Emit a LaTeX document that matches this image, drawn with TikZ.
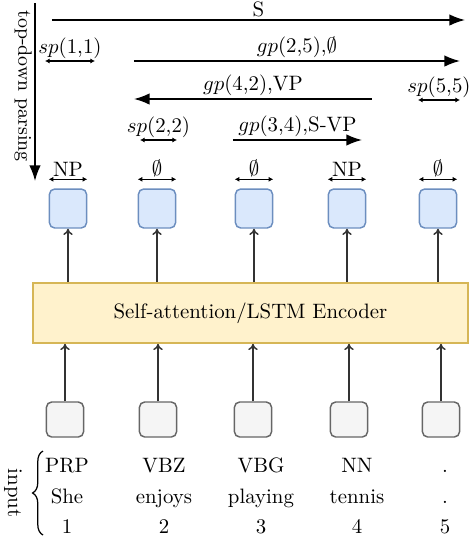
\documentclass[tikz,border=0pt]{standalone}
\usepackage{amsmath}
\usepackage{amssymb}
\usepackage{tikz}
\usetikzlibrary{arrows}
\usetikzlibrary{arrows.meta}
\usetikzlibrary{calc}
\usetikzlibrary{decorations.pathreplacing}

\definecolor{hidfill}{HTML}{DAE8FC}
\definecolor{hiddraw}{HTML}{6C8EBF}
\definecolor{embfill}{HTML}{F5F5F5}
\definecolor{embdraw}{HTML}{666666}
\definecolor{encfill}{HTML}{FFF2CC}
\definecolor{encdraw}{HTML}{D6B656}

\begin{document}
\begin{tikzpicture}[x=0.48pt,y=-0.48pt]
\tikzstyle{hidden}=[draw=hiddraw,fill=hidfill,line width=0.7pt,rounded corners=2.5pt,minimum width=17.8pt,minimum height=18.7pt,inner sep=0pt]
\tikzstyle{embed}=[draw=embdraw,fill=embfill,line width=0.7pt,rounded corners=2.5pt,minimum width=17.8pt,minimum height=16.8pt,inner sep=0pt]
\tikzstyle{parse}=[-{Latex[length=7.5pt,width=5.5pt]},line width=0.7pt]
\tikzstyle{spanarrow}=[{Latex[length=2.2pt,width=2.4pt]}-{Latex[length=2.2pt,width=2.4pt]},line width=0.5pt]
\tikzstyle{feed}=[-{To[length=3pt,width=4.5pt]},line width=0.7pt,black!80]
\tikzstyle{lbl}=[above,inner sep=1pt]

\useasboundingbox (0,0) rectangle (470,542);

% TOP-DOWN PARSING ARROW
\coordinate (td-top) at (35,3);
\coordinate (td-bot) at (35,181);
\draw [parse] (td-top) -- (td-bot);
\node (td) [rotate=-90,font=\fontsize{9.3}{11}\selectfont] at (23,86) {top-down parsing};

% HIDDEN STATES
\foreach \x [count=\i] in {68,157,254,347,438}
  \node (h\i) [hidden] at (\x,208.5) {};

% ENCODER
\node (enc) [draw=encdraw,fill=encfill,line width=0.8pt,minimum width=208.8pt,minimum height=28.8pt] at (250.5,313) {Self-attention/LSTM Encoder};

% EMBEDDINGS
\foreach \x [count=\i] in {65,158,253,349,441}
  \node (e\i) [embed] at (\x,419.5) {};

% ARROWS THROUGH THE ENCODER
\foreach \i in {1,...,5} {
  \draw [feed] (h\i |- enc.north) -- (h\i.south);
  \draw [feed] (e\i.north) -- (e\i |- enc.south);
}

% LABELS OF SINGLE WORDS
\foreach \l [count=\i] in {NP,$\emptyset$,$\emptyset$,NP,$\emptyset$}
  \draw [spanarrow] ($(h\i.north west)+(0,-9)$) -- ($(h\i.north east)+(0,-9)$) node [lbl,midway] {\l};

% SPANS
\coordinate (s-a) at (52,20);   \coordinate (s-b) at (465,20);
\coordinate (sp1-a) at (45,61); \coordinate (sp1-b) at (95,61);
\coordinate (g25-a) at (134,61); \coordinate (g25-b) at (460,61);
\coordinate (g42-a) at (372,99); \coordinate (g42-b) at (134,99);
\coordinate (sp5-a) at (418,100); \coordinate (sp5-b) at (460,100);
\coordinate (sp2-a) at (140,140); \coordinate (sp2-b) at (177,140);
\coordinate (g34-a) at (233,140); \coordinate (g34-b) at (362,140);

\draw [parse] (s-a) -- (s-b) node [lbl,midway] {S};
\draw [spanarrow] (sp1-a) -- (sp1-b) node [lbl,midway] {$sp$(1,1)};
\draw [parse] (g25-a) -- (g25-b) node [lbl,midway] {$gp$(2,5),$\emptyset$};
\draw [parse] (g42-a) -- (g42-b) node [lbl,midway] {$gp$(4,2),VP};
\draw [spanarrow] (sp5-a) -- (sp5-b) node [lbl,midway] {$sp$(5,5)};
\draw [spanarrow] (sp2-a) -- (sp2-b) node [lbl,midway] {$sp$(2,2)};
\draw [parse] (g34-a) -- (g34-b) node [lbl,midway] {$gp$(3,4),S-VP};

% INPUT
\foreach \x/\p/\w/\n [count=\i] in {67/PRP/She/1,164/VBZ/enjoys/2,261/VBG/playing/3,357/NN/tennis/4,445/././5} {
  \node (pos\i) [anchor=base] at (\x,472) {\p};
  \node (word\i) [anchor=base] at (\x,503) {\w};
  \node (idx\i) [anchor=base] at (\x,533) {\n};
}
\draw [decorate,decoration={brace,amplitude=5pt},line width=0.6pt] (43,535) -- (43,451);
\node (in) [rotate=-90] at (13,493) {input};

\end{tikzpicture}
\end{document}
